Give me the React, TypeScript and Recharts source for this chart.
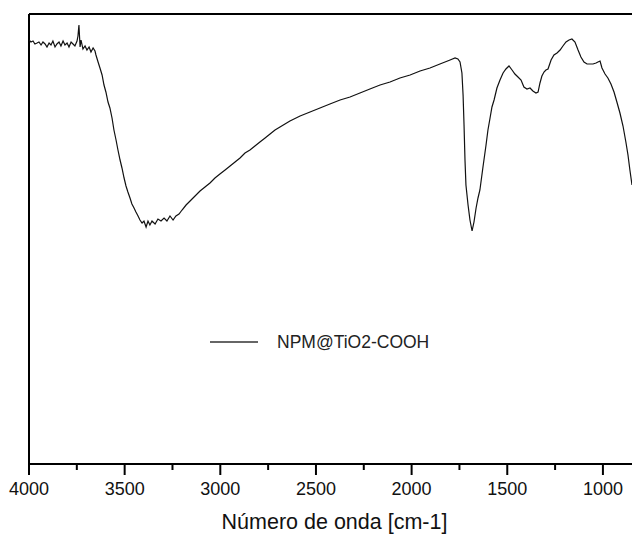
import { LineChart, Line, XAxis, YAxis, ReferenceLine, Legend } from "recharts";

// wavenumber (cm-1)
const wavenumbers = [
  4000, 3990, 3979, 3969, 3958, 3948, 3937, 3927, 3916, 3906, 3895, 3885, 3875, 3864, 3854, 3843,
  3833, 3822, 3812, 3801, 3791, 3780, 3770, 3760, 3749, 3744, 3739, 3733, 3728, 3718, 3707, 3697,
  3686, 3676, 3665, 3655, 3650, 3639, 3629, 3618, 3608, 3598, 3587, 3577, 3566, 3556, 3545, 3535,
  3524, 3514, 3503, 3493, 3483, 3472, 3462, 3451, 3441, 3430, 3420, 3409, 3399, 3388, 3378, 3368,
  3357, 3341, 3326, 3310, 3294, 3279, 3263, 3247, 3232, 3216, 3200, 3179, 3158, 3132, 3106, 3080,
  3054, 3028, 3002, 2975, 2949, 2923, 2897, 2871, 2845, 2819, 2793, 2766, 2740, 2714, 2688, 2662,
  2636, 2583, 2531, 2479, 2427, 2374, 2322, 2270, 2218, 2165, 2113, 2061, 2008, 1956, 1904, 1852,
  1799, 1773, 1758, 1747, 1737, 1731, 1726, 1721, 1716, 1705, 1695, 1684, 1674, 1663, 1653, 1643,
  1627, 1611, 1601, 1590, 1580, 1569, 1554, 1538, 1522, 1507, 1491, 1475, 1460, 1444, 1428, 1413,
  1397, 1381, 1366, 1350, 1339, 1329, 1319, 1308, 1298, 1287, 1271, 1256, 1240, 1224, 1209, 1193,
  1177, 1162, 1146, 1130, 1115, 1099, 1083, 1068, 1052, 1036, 1026, 1015, 1005, 989, 974, 958,
  942, 927, 911, 895, 880, 869, 859, 848,
];

// transmittance (arbitrary units)
const transmittance = [
  84.8, 84.4, 84.6, 84.0, 84.2, 84.4, 83.8, 84.4, 84.0, 83.4, 84.2, 83.8, 84.6, 83.4, 84.0, 84.4,
  83.6, 84.6, 83.8, 84.2, 83.4, 84.4, 84.0, 83.6, 84.6, 85.6, 87.8, 83.4, 84.8, 83.0, 83.6, 82.8,
  83.4, 82.4, 83.2, 82.6, 81.8, 80.4, 79.2, 77.8, 75.8, 74.4, 72.4, 71.2, 69.2, 66.8, 64.8, 62.8,
  60.8, 59.2, 57.2, 55.6, 54.4, 53.2, 52.0, 51.2, 50.4, 49.6, 48.8, 48.2, 48.6, 47.4, 48.6, 47.8,
  48.6, 48.0, 49.0, 48.6, 49.2, 48.6, 49.6, 48.8, 49.6, 50.0, 50.8, 51.8, 52.6, 53.6, 54.6, 55.4,
  56.2, 57.2, 58.0, 58.8, 59.6, 60.4, 61.2, 62.2, 62.8, 63.6, 64.4, 65.2, 66.0, 66.8, 67.4, 68.0,
  68.6, 69.6, 70.4, 71.2, 72.0, 72.8, 73.4, 74.2, 75.0, 75.8, 76.4, 77.2, 77.8, 78.6, 79.2, 80.0,
  80.8, 81.2, 81.0, 80.4, 78.2, 73.8, 67.8, 60.8, 55.8, 51.8, 48.8, 46.6, 48.4, 51.2, 53.2, 54.8,
  59.4, 63.8, 66.8, 69.2, 71.4, 72.8, 75.2, 76.8, 78.2, 79.0, 79.6, 78.8, 78.0, 77.4, 76.8, 75.4,
  75.0, 75.2, 74.6, 74.2, 74.4, 76.2, 77.6, 78.4, 78.8, 79.0, 80.8, 81.8, 82.2, 82.8, 83.6, 84.4,
  84.8, 85.0, 84.4, 82.8, 81.4, 80.4, 80.0, 80.0, 80.0, 80.2, 80.4, 80.6, 79.2, 78.0, 77.2, 76.0,
  74.4, 72.4, 70.2, 67.6, 64.4, 61.8, 58.8, 55.8,
];

const xTicks = [4000, 3750, 3500, 3250, 3000, 2750, 2500, 2250, 2000, 1750, 1500, 1250, 1000];
const seriesName = "NPM@TiO2-COOH";
const xTitle = "Número de onda [cm-1]";

const data = wavenumbers.map((wn, i) => ({ wn, t: transmittance[i] }));

const FONT = '"Liberation Sans", Arial, sans-serif';

const AxisTick = (props: any) => {
  const { x, y, payload } = props;
  const major = payload.value % 500 === 0;
  return (
    <g>
      <line x1={x} x2={x} y1={y} y2={y + (major ? 11 : 6)} stroke="#000" strokeWidth={2} />
      {major && (
        <text x={x} y={y + 31} textAnchor="middle" fontSize={18} fontFamily={FONT} fill="#111">
          {payload.value}
        </text>
      )}
    </g>
  );
};

const LegendBox = () => (
  <div style={{ display: "flex", alignItems: "center", height: 20 }}>
    <svg width={48} height={4}>
      <line x1={0} x2={48} y1={2} y2={2} stroke="#333" strokeWidth={1.3} />
    </svg>
    <span style={{ marginLeft: 19, fontSize: 17.5, fontFamily: FONT, color: "#222" }}>
      {seriesName}
    </span>
  </div>
);

export default function App() {
  return (
    <div style={{ position: "absolute", left: 0, top: 0, width: 632, height: 535, background: "#fff" }}>
      <LineChart width={632} height={535} data={data} margin={{ top: 14, right: 0, left: 29, bottom: 0 }}>
        <XAxis
          dataKey="wn"
          type="number"
          domain={[848, 4000]}
          allowDataOverflow
          reversed
          ticks={xTicks}
          interval={0}
          height={71}
          tickSize={0}
          tickMargin={0}
          tickLine={false}
          axisLine={{ stroke: "#000", strokeWidth: 2 }}
          tick={<AxisTick />}
          label={{ value: xTitle, position: "insideBottom", offset: 6, fontSize: 21.5, fontFamily: FONT, fill: "#111", dx: 4 }}
        />
        <YAxis
          type="number"
          domain={[0, 90]}
          allowDataOverflow
          width={0}
          tick={false}
          tickLine={false}
          axisLine={{ stroke: "#000", strokeWidth: 2 }}
        />
        <ReferenceLine y={90} stroke="#000" strokeWidth={2} />
        <ReferenceLine x={4000} stroke="#000" strokeWidth={2} />
        <Legend
          layout="horizontal"
          verticalAlign="middle"
          align="center"
          content={<LegendBox />}
          wrapperStyle={{ left: 210, top: 332, width: "auto" }}
        />
        <Line
          dataKey="t"
          type="linear"
          stroke="#111"
          strokeWidth={1.2}
          dot={false}
          activeDot={false}
          isAnimationActive={false}
        />
      </LineChart>
    </div>
  );
}
